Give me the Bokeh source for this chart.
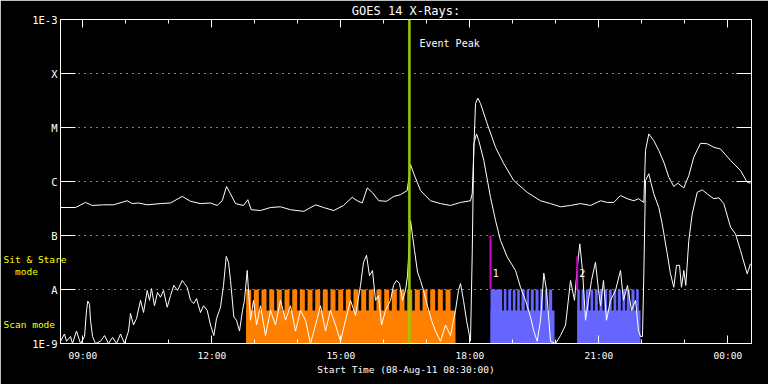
from bokeh.plotting import figure
from bokeh.models import Range1d, LinearAxis, LogAxis, FixedTicker, Label, Span, CustomJSTickFormatter
from bokeh.embed import file_html
from bokeh.resources import INLINE

FONT = "DejaVu Sans Mono"

# ---------------- data ----------------
# time in hours of 08-Aug-2011 (24 = 00:00 next day), flux in W/m^2
goes_long = [
    (8.481, 3.3e-7), (8.830, 3.3e-7), (9.063, 4.1e-7), (9.219, 3.6e-7), (9.481, 3.7e-7),
    (9.714, 3.7e-7), (10.033, 4.4e-7), (10.149, 3.9e-7), (10.295, 4.0e-7), (10.498, 3.7e-7),
    (10.807, 3.9e-7), (11.040, 4.0e-7), (11.312, 5.3e-7), (11.505, 4.3e-7), (11.737, 3.9e-7),
    (11.970, 4.0e-7), (12.126, 3.6e-7), (12.242, 4.4e-7), (12.342, 8.1e-7), (12.435, 5.9e-7),
    (12.551, 3.9e-7), (12.737, 3.6e-7), (12.837, 4.6e-7), (12.916, 3.0e-7), (13.133, 2.9e-7),
    (13.365, 3.3e-7), (13.598, 3.4e-7), (13.830, 3.0e-7), (14.140, 2.8e-7), (14.412, 3.7e-7),
    (14.598, 3.3e-7), (14.837, 2.9e-7), (15.063, 3.6e-7), (15.265, 5.1e-7), (15.381, 4.4e-7),
    (15.498, 4.0e-7), (15.614, 7.6e-7), (15.737, 6.2e-7), (15.884, 4.4e-7), (16.063, 4.3e-7),
    (16.233, 5.3e-7), (16.388, 5.7e-7), (16.544, 6.8e-7), (16.581, 1.14e-6), (16.621, 2.07e-6),
    (16.698, 1.39e-6), (16.853, 6.8e-7), (17.086, 4.4e-7), (17.319, 3.9e-7), (17.551, 3.6e-7),
    (17.784, 4.1e-7), (18.016, 4.4e-7), (18.056, 6.0e-7), (18.133, 2.78e-5), (18.186, 3.49e-5),
    (18.249, 2.78e-5), (18.405, 1.17e-5), (18.598, 4.3e-6), (18.791, 2.13e-6), (19.023, 1.04e-6),
    (19.335, 6.3e-7), (19.644, 4.4e-7), (19.877, 3.9e-7), (20.109, 3.4e-7), (20.342, 3.6e-7),
    (20.574, 3.9e-7), (20.807, 3.6e-7), (21.040, 4.4e-7), (21.195, 4.1e-7), (21.349, 4.1e-7),
    (21.505, 5.5e-7), (21.660, 4.8e-7), (21.814, 4.4e-7), (21.923, 4.8e-7), (22.047, 4.1e-7),
    (22.086, 3.75e-6), (22.163, 7.6e-6), (22.279, 5.7e-6), (22.395, 3.75e-6), (22.512, 2.28e-6),
    (22.628, 1.20e-6), (22.744, 8.1e-7), (22.837, 9.3e-7), (22.977, 7.6e-7), (23.093, 1.29e-6),
    (23.209, 2.82e-6), (23.365, 5.1e-6), (23.521, 5.0e-6), (23.674, 4.3e-6), (23.830, 4.0e-6),
    (24.063, 2.45e-6), (24.295, 1.60e-6), (24.451, 9.7e-7), (24.528, 9.3e-7),
]

goes_short = [
    (8.481, 1.1e-9), (8.574, 1.5e-9), (8.621, 1.1e-9), (8.714, 1.35e-9), (8.760, 1.0e-9),
    (8.853, 1.7e-9), (8.947, 1.0e-9), (9.040, 1.35e-9), (9.086, 4.1e-9), (9.116, 6.1e-9),
    (9.156, 5.3e-9), (9.179, 2.7e-9), (9.226, 1.35e-9), (9.295, 1.0e-9), (9.412, 1.1e-9),
    (9.505, 1.4e-9), (9.598, 1.0e-9), (9.691, 1.3e-9), (9.784, 1.0e-9), (9.877, 1.5e-9),
    (9.970, 1.0e-9), (10.063, 1.7e-9), (10.109, 3.6e-9), (10.179, 2.2e-9), (10.249, 2.9e-9),
    (10.342, 6.3e-9), (10.412, 3.75e-9), (10.498, 9.6e-9), (10.551, 6.3e-9), (10.598, 1.04e-8),
    (10.667, 5.0e-9), (10.737, 8.8e-9), (10.807, 7.2e-9), (10.877, 9.6e-9), (10.963, 4.7e-9),
    (11.040, 7.7e-9), (11.116, 1.19e-8), (11.202, 9.6e-9), (11.312, 1.47e-8), (11.365, 1.29e-8),
    (11.428, 1.10e-8), (11.505, 6.3e-9), (11.581, 5.5e-9), (11.644, 6.8e-9), (11.737, 3.75e-9),
    (11.807, 5.0e-9), (11.893, 4.1e-9), (11.970, 2.2e-9), (12.047, 1.4e-9), (12.109, 2.9e-9),
    (12.202, 4.7e-9), (12.272, 1.19e-8), (12.335, 4.1e-8), (12.388, 3.2e-8), (12.435, 1.47e-8),
    (12.512, 3.1e-9), (12.574, 2.7e-9), (12.644, 1.7e-9), (12.714, 4.1e-9), (12.760, 6.3e-9),
    (12.823, 2.25e-8), (12.853, 9.6e-9), (12.900, 2.7e-9), (12.970, 6.3e-9), (13.040, 2.2e-9),
    (13.133, 5.0e-9), (13.249, 1.4e-9), (13.365, 4.1e-9), (13.481, 2.2e-9), (13.598, 6.3e-9),
    (13.714, 2.7e-9), (13.830, 5.0e-9), (13.947, 1.7e-9), (14.063, 4.1e-9), (14.179, 2.7e-9),
    (14.295, 1.0e-9), (14.412, 2.2e-9), (14.528, 5.0e-9), (14.644, 1.7e-9), (14.760, 4.1e-9),
    (14.877, 2.2e-9), (14.993, 1.1e-9), (15.109, 2.7e-9), (15.226, 6.3e-9), (15.342, 3.3e-9),
    (15.458, 1.19e-8), (15.528, 3.2e-8), (15.598, 4.3e-8), (15.667, 1.8e-8), (15.737, 2.25e-8),
    (15.807, 6.3e-9), (15.877, 7.7e-9), (15.947, 2.2e-9), (16.040, 4.1e-9), (16.156, 6.3e-9),
    (16.226, 1.19e-8), (16.295, 1.47e-8), (16.365, 1.29e-8), (16.435, 6.3e-9), (16.505, 9.6e-9),
    (16.551, 1.8e-8), (16.621, 1.9e-7), (16.667, 1.0e-7), (16.714, 5.3e-8), (16.784, 2.1e-8),
    (16.853, 1.47e-8), (16.923, 9.6e-9), (17.016, 5.0e-9), (17.109, 2.7e-9), (17.202, 1.7e-9),
    (17.319, 1.1e-9), (17.435, 2.2e-9), (17.551, 1.4e-9), (17.667, 4.1e-9), (17.737, 9.6e-9),
    (17.784, 1.29e-8), (17.853, 6.3e-9), (17.923, 2.7e-9), (18.016, 1.1e-9), (18.056, 4.6e-8),
    (18.093, 5.0e-6), (18.156, 7.6e-6), (18.209, 5.7e-6), (18.326, 2.45e-6), (18.481, 5.1e-7),
    (18.598, 1.9e-7), (18.714, 8.1e-8), (18.870, 4.0e-8), (19.063, 2.25e-8), (19.179, 1.10e-8),
    (19.295, 6.3e-9), (19.412, 3.1e-9), (19.488, 1.7e-9), (19.567, 1.1e-9), (19.644, 2.7e-9),
    (19.721, 2.0e-8), (19.784, 9.6e-9), (19.877, 1.1e-9), (19.993, 1.0e-9), (20.109, 1.4e-9),
    (20.226, 2.2e-9), (20.342, 1.47e-8), (20.435, 6.3e-9), (20.505, 2.8e-8), (20.558, 7.0e-8),
    (20.621, 2.25e-8), (20.691, 2.7e-9), (20.760, 6.3e-9), (20.830, 1.47e-8), (20.923, 3.2e-8),
    (20.993, 9.6e-9), (21.040, 5.0e-9), (21.109, 1.47e-8), (21.179, 2.7e-9), (21.272, 6.3e-9),
    (21.388, 9.6e-9), (21.505, 2.25e-8), (21.574, 6.3e-9), (21.667, 1.19e-8), (21.760, 4.1e-9),
    (21.853, 6.3e-9), (21.923, 1.7e-9), (21.970, 1.35e-9), (22.016, 1.35e-9), (22.047, 1.95e-8),
    (22.086, 1.04e-6), (22.163, 1.39e-6), (22.219, 9.1e-7), (22.279, 5.9e-7), (22.395, 3.3e-7),
    (22.474, 1.65e-7), (22.591, 4.6e-8), (22.667, 1.95e-8), (22.744, 1.10e-8), (22.807, 2.8e-8),
    (22.877, 2.8e-8), (22.923, 1.10e-8), (22.977, 2.25e-8), (23.023, 1.19e-8), (23.093, 8.1e-8),
    (23.172, 2.5e-7), (23.288, 6.3e-7), (23.405, 7.0e-7), (23.521, 5.9e-7), (23.674, 4.8e-7),
    (23.791, 5.0e-7), (23.907, 3.9e-7), (24.063, 1.43e-7), (24.179, 1.07e-7), (24.295, 5.3e-8),
    (24.451, 1.95e-8), (24.528, 3.0e-8),
]

# observation blocks (start, end) in hours
scan_orange = [(12.800, 17.667)]
stare_orange = [
    (12.800, 12.916), (12.977, 13.093), (13.156, 13.272), (13.335, 13.451), (13.512, 13.628),
    (13.691, 13.807), (13.870, 13.986), (14.047, 14.163), (14.226, 14.342), (14.405, 14.521),
    (14.581, 14.697), (14.760, 14.876), (14.940, 15.056), (15.116, 15.232), (15.295, 15.411),
    (15.474, 15.590), (15.651, 15.767), (15.830, 15.946), (16.009, 16.125), (16.186, 16.302),
    (16.365, 16.481), (16.544, 16.660), (16.721, 16.837), (16.900, 17.016), (17.079, 17.195),
    (17.256, 17.372), (17.435, 17.551),
]
scan_blue = [(18.481, 19.970), (20.498, 21.970)]
stare_blue = [
    (18.481, 18.753), (18.791, 18.853), (18.893, 18.963), (19.000, 19.063), (19.102, 19.163),
    (19.202, 19.279), (19.319, 19.381), (19.419, 19.488), (19.528, 19.598), (19.637, 19.707),
    (19.744, 19.800), (19.837, 19.916),
    (20.498, 20.558), (20.598, 20.660), (20.698, 20.767), (20.807, 20.870), (20.907, 20.977),
    (21.016, 21.086), (21.126, 21.195), (21.233, 21.302), (21.342, 21.405), (21.442, 21.512),
    (21.551, 21.614), (21.651, 21.721), (21.760, 21.830), (21.870, 21.930),
]
scan_level = 4.1e-9
stare_level = 1e-8
floor_level = 1e-9

event_peak = 16.595
markers = [("1", 18.481, 1e-7), ("2", 20.498, 4.1e-8)]

x_ticks = [9, 12, 15, 18, 21, 24]
x_tick_labels = ["09:00", "12:00", "15:00", "18:00", "21:00", "00:00"]
x_minor = [10, 11, 13, 14, 16, 17, 19, 20, 22, 23]
y_ticks = [1e-9, 1e-8, 1e-7, 1e-6, 1e-5, 1e-4, 1e-3]
y_tick_labels = ["1E-9", "A", "B", "C", "M", "X", "1E-3"]
mode_pos = [2.25e-9, 2.15e-8, 3.59e-8]
NB = "\u00a0"
mode_labels = ["Scan mode" + NB * 2, NB * 2 + "mode" + NB * 5, "Sit & Stare"]

# ---------------- figure ----------------
p = figure(width=768, height=384, output_backend="svg", toolbar_location=None,
           x_range=Range1d(8.481, 24.551), y_range=Range1d(1e-9, 1e-3), y_axis_type="log",
           background_fill_color="black", border_fill_color="black",
           min_border_left=60, min_border_right=17, min_border_top=19, min_border_bottom=41,
           outline_line_color="white", outline_line_width=1)
p.xgrid.visible = False

p.title.text = "GOES 14 X-Rays:"
p.title.align = "center"
p.title.offset = -5
p.title.text_color = "white"
p.title.text_font = FONT
p.title.text_font_size = "12px"
p.title.text_font_style = "normal"
p.title.standoff = 3

xt = FixedTicker(ticks=x_ticks, minor_ticks=x_minor)
yt = FixedTicker(ticks=y_ticks, minor_ticks=[])
blank = CustomJSTickFormatter(code="return '';")

def style_x(ax, labels):
    ax.ticker = xt
    ax.axis_line_color = "white"
    ax.major_tick_line_color = "white"
    ax.minor_tick_line_color = "white"
    ax.major_tick_in = 8
    ax.major_tick_out = 0
    ax.minor_tick_in = 4
    ax.minor_tick_out = 0
    ax.major_label_text_font = FONT
    if labels:
        ax.major_label_overrides = {t: s for t, s in zip(x_ticks, x_tick_labels)}
        ax.major_label_text_color = "white"
        ax.major_label_text_font_size = "9.5px"
        ax.major_label_standoff = 6
    else:
        ax.formatter = blank
        ax.major_label_text_font_size = "1px"
        ax.major_label_standoff = 0

def style_y(ax, labels):
    ax.ticker = yt
    ax.axis_line_color = "white"
    ax.major_tick_line_color = "white"
    ax.minor_tick_line_color = None
    ax.major_tick_in = 15
    ax.major_tick_out = 0
    ax.major_label_text_font = FONT
    if labels:
        ax.formatter = CustomJSTickFormatter(args=dict(labels=y_tick_labels),
            code="const i = Math.round(Math.log10(tick)) + 9; return labels[i] ?? '';")
        ax.major_label_text_color = "white"
        ax.major_label_text_font_size = "10.5px"
        ax.major_label_standoff = 3
    else:
        ax.formatter = blank
        ax.major_label_text_font_size = "1px"
        ax.major_label_standoff = 0

style_x(p.xaxis[0], True)
p.xaxis[0].axis_label = "Start Time (08-Aug-11 08:30:00)"
p.xaxis[0].axis_label_text_color = "white"
p.xaxis[0].axis_label_text_font = FONT
p.xaxis[0].axis_label_text_font_size = "9.5px"
p.xaxis[0].axis_label_text_font_style = "normal"
p.xaxis[0].axis_label_standoff = 0
style_y(p.yaxis[0], True)

top = LinearAxis()
style_x(top, False)
p.add_layout(top, "above")
right = LogAxis()
style_y(right, False)
p.add_layout(right, "right")

# yellow mode labels, as an extra left axis whose labels reach into the frame edge
mode_axis = LogAxis(ticker=FixedTicker(ticks=mode_pos, minor_ticks=[]),
    formatter=CustomJSTickFormatter(args=dict(pos=mode_pos, labels=mode_labels), code="""
        let best = 0;
        for (let i = 0; i < pos.length; i++) {
            if (Math.abs(Math.log10(pos[i] / tick)) < Math.abs(Math.log10(pos[best] / tick))) best = i;
        }
        return labels[best];"""),
    axis_line_color=None, major_tick_line_color=None, minor_tick_line_color=None,
    major_tick_in=0, major_tick_out=0,
    major_label_text_color="yellow", major_label_text_font=FONT,
    major_label_text_font_size="9.5px", major_label_standoff=-37)
p.add_layout(mode_axis, "left")

p.ygrid.ticker = yt
p.ygrid.grid_line_color = "white"
p.ygrid.grid_line_dash = "1 5"
p.ygrid.grid_line_width = 1

# observation bars
def bars(blocks, top_val, color):
    p.quad(left=[a for a, b in blocks], right=[b for a, b in blocks],
           bottom=[floor_level * 0.9] * len(blocks), top=[top_val] * len(blocks),
           fill_color=color, line_color=None)

bars(scan_orange, scan_level, "#ff8000")
bars(stare_orange, stare_level, "#ff8000")
bars(scan_blue, scan_level, "#6666ff")
bars(stare_blue, stare_level, "#6666ff")

# GOES curves
p.line([t for t, f in goes_long], [f for t, f in goes_long], line_color="white", line_width=1)
p.line([t for t, f in goes_short], [f for t, f in goes_short], line_color="white", line_width=1)

# markers
for name, t, ytop in markers:
    p.segment(x0=[t], y0=[stare_level], x1=[t], y1=[ytop], line_color="#cc00cc", line_width=2)
    p.add_layout(Label(x=t + 0.05, y=2.06e-8, text=name, text_color="white", text_font=FONT,
                       text_font_size="10px", text_baseline="middle", text_align="left"))

p.add_layout(Span(location=event_peak, dimension="height", line_color="#99cc00", line_width=2.5))
p.add_layout(Label(x=16.830, y=3.6e-4, text="Event Peak", text_color="white", text_font=FONT,
                   text_font_size="10px", text_baseline="middle", text_align="left"))

open("out.html", "w").write(file_html(p, INLINE))
